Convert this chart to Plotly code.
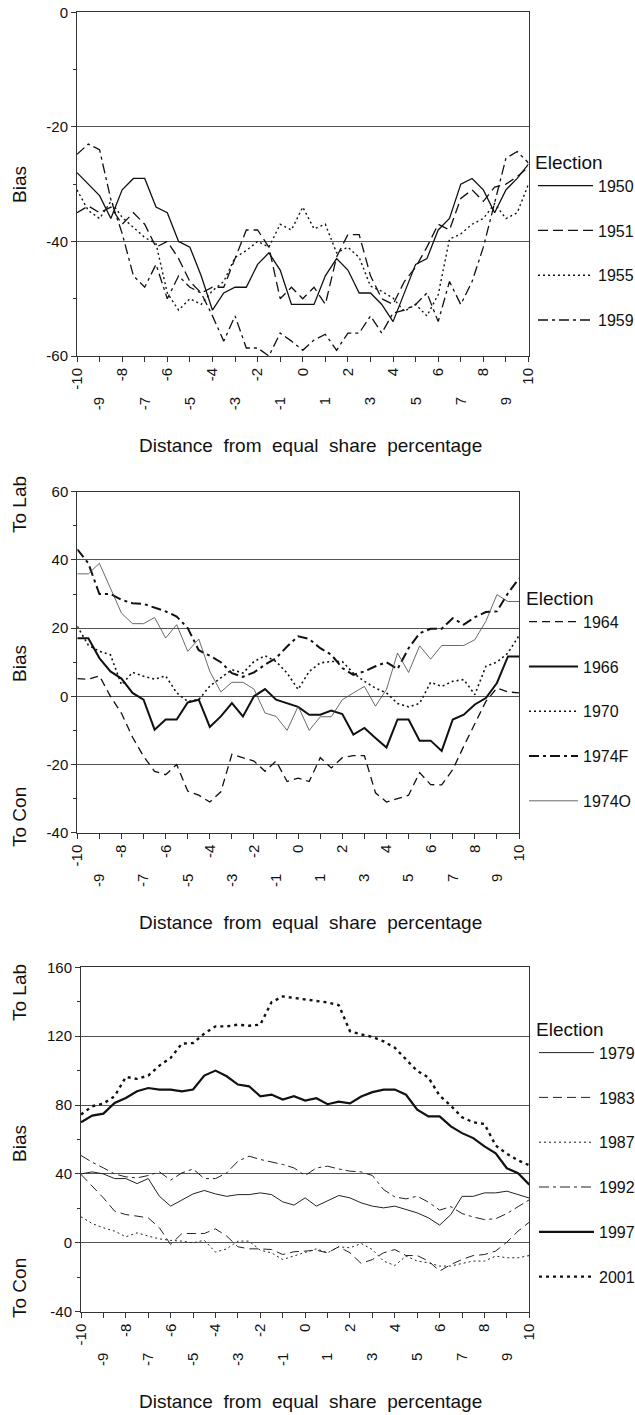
import plotly.graph_objects as go

# ---------------- data ----------------
distance = [-10, -9.5, -9, -8.5, -8, -7.5, -7, -6.5, -6, -5.5, -5, -4.5, -4, -3.5, -3, -2.5, -2,
            -1.5, -1, -0.5, 0, 0.5, 1, 1.5, 2, 2.5, 3, 3.5, 4, 4.5, 5, 5.5, 6, 6.5, 7, 7.5, 8,
            8.5, 9, 9.5, 10]

even_ticks = [-10, -8, -6, -4, -2, 0, 2, 4, 6, 8, 10]
odd_ticks = [-9, -7, -5, -3, -1, 1, 3, 5, 7, 9]

y_ticks_1 = [-60, -40, -20, 0]
y_ticks_2 = [-40, -20, 0, 20, 40, 60]
y_ticks_3 = [-40, 0, 40, 80, 120, 160]

# Panel 1
bias_1950 = [-28, -30, -32, -36, -31, -29, -29, -34, -35, -40, -41, -46, -52, -49, -48, -48, -44,
             -42, -45, -51, -51, -51, -46, -43, -45, -49, -49, -51, -54, -49, -44, -43, -38, -36,
             -30, -29, -31, -35, -31, -29, -26.5]
bias_1951 = [-35, -33.8, -35, -34, -37, -35, -37, -41, -40, -43, -47, -49, -48, -48, -43, -38, -38,
             -41, -50, -48, -50, -48, -51, -42.7, -38.8, -38.8, -46, -50, -51, -47, -44.5, -41,
             -37, -38, -32.5, -31, -33, -30.5, -30, -28.7, -27]
bias_1955 = [-31, -34.6, -36, -33, -35.8, -37.5, -39.3, -40.4, -49, -52, -50, -51, -48.6, -47,
             -42.8, -41.6, -40, -41, -37, -38, -34, -37.8, -37, -42, -41, -42.8, -47.8, -48.7,
             -49.9, -52.2, -51, -53, -49.3, -39.6, -38.7, -37, -36, -33.4, -36, -35, -30]
bias_1959 = [-24.8, -23, -24, -32.7, -38.6, -46, -48, -44, -50, -46, -48, -49, -53, -57.4, -53,
             -58.6, -58.6, -60, -56, -57.4, -59, -57.2, -56.2, -59, -56, -56, -53, -56, -52.5,
             -52, -51, -49, -54, -47, -51, -47, -41, -33, -25.5, -24.3, -26.3]

# Panel 2
bias_1964 = [5.2, 5, 6, 0, -5, -12, -17.6, -22, -23, -20, -27.8, -29, -31, -28, -17, -18, -19,
             -22, -19, -25, -24, -25, -18, -21, -18, -17.4, -17.4, -28.3, -31, -30, -29, -22.4,
             -25.9, -26, -21.5, -14.6, -7.8, -1.5, 2.4, 1.3, 1]
bias_1966 = [17, 17, 11.2, 7.3, 5.2, 1, -1, -9.8, -6.8, -6.8, -1.8, -1, -9, -5.9, -2, -5.9, 0,
             2.1, -1, -2, -3.1, -5.4, -5.4, -4.2, -5.2, -11.2, -9.3, -12.2, -15, -6.8, -6.8,
             -13, -13, -16, -6.8, -5.4, -2.4, -0.5, 3.9, 11.7, 11.7]
bias_1970 = [20.5, 15, 13.2, 12.2, 3.4, 7, 5.9, 5, 6, 1, -1.5, -1, 3, 5.4, 7.8, 6.8, 10.2, 11.9,
             10.2, 6.8, 2, 7.3, 9.8, 10.2, 10.2, 6.8, 4.4, 2.4, 1, -2.1, -3.1, -2.1, 4.1, 2.9,
             4.4, 4.9, 0.5, 8.8, 10, 12.7, 17.8]
bias_1974F = [43.1, 39, 30, 30, 28.3, 27.3, 27.1, 26.1, 24.9, 23.4, 20, 13.5, 11.9, 10, 6.8,
              5.7, 7, 9.3, 11.2, 14.6, 17.6, 16.8, 14.1, 12.2, 8.3, 6.3, 7.3, 8.8, 10, 8, 14.1,
              18.5, 19.8, 19.8, 22.9, 21, 23.2, 24.7, 24.9, 30.2, 34.6]
bias_1974O = [35.9, 35.9, 39, 31.7, 24.4, 21.3, 21.3, 23.1, 17.1, 21, 13.2, 16.8, 7.3, 1.3, 4.1,
              4.1, 2.1, -4.9, -5.9, -10, -2.9, -10, -6, -6, -1, 1, 2.9, -2.9, 2, 12.7, 7, 14.8,
              10.9, 14.9, 14.9, 14.9, 16.6, 22, 29.8, 27.8, 27.8]

# Panel 3
bias_1979 = [40, 41.2, 40, 37.3, 37.3, 34.4, 37.3, 27, 21.3, 25.1, 28.4, 30.4, 28.4, 27, 28, 28,
             29, 28, 23.8, 21.9, 26.1, 21.3, 24.2, 27.5, 26.1, 23.2, 21.3, 20.3, 21.3, 19.3,
             17.4, 14.5, 10.3, 16.4, 27, 27, 29, 29, 30, 28, 26]
bias_1983 = [39.7, 32.9, 26.1, 18.4, 16.4, 15.5, 14.5, 8.7, -1, 5.4, 5.4, 5.4, 8.1, 3.9, -2.3,
             -3.5, -3.5, -3.9, -6.8, -5.2, -4.8, -4.3, -5.8, -2.3, -5.8, -12, -9.7, -5.8, -3.9,
             -7.4, -7.4, -10.6, -16.4, -12.6, -9.7, -7.4, -6.8, -4.8, 0.4, 6.8, 12]
bias_1987 = [15.1, 11.2, 8.7, 6.8, 3.5, 5.8, 3.9, 2.3, 1.4, 1, 0, 1.5, -5.4, -3.5, 1, 1, -4.3,
             -5.8, -9.7, -7.7, -5.4, -3.5, -5.8, -2.3, -2.9, -0.4, -3.9, -10.6, -13.2, -7.7,
             -10.6, -11.6, -13.5, -13.5, -12, -10.6, -10.6, -7.7, -8.7, -8.7, -7.4]
bias_1992 = [50.7, 46.8, 43.5, 40, 38.3, 37.7, 39.1, 41.2, 36.4, 40.6, 42.9, 37.3, 37.3, 40.6,
             47.4, 50.3, 48.4, 47, 45.5, 43.5, 39.1, 43.5, 44.5, 42.9, 41.6, 41.2, 39.1, 30.9,
             26.7, 25.5, 27.1, 23.6, 19, 21, 17, 15, 13.5, 14, 17, 21, 25]
bias_1997 = [70, 73.9, 75, 81.2, 84.1, 88, 89.9, 89, 89, 88, 89, 97.1, 100, 96.7, 91.9, 90.9,
             85.1, 86.1, 83.2, 85.1, 82.6, 84, 80.5, 82, 81, 85, 87.5, 89, 89, 86, 77.3, 73.4,
             73.4, 67.6, 63.7, 60.8, 56, 52, 43.3, 40.4, 33.8]
bias_2001 = [74.5, 79.3, 80.9, 85.1, 96.3, 95.2, 97.1, 102.9, 107.4, 115.7, 116, 121.5, 125.7,
             125.7, 126.7, 126.1, 126.7, 139.7, 143.1, 142.2, 141.6, 140.8, 139.6, 138, 122.9,
             121, 119.6, 117, 113.3, 106.5, 99.8, 96, 85.4, 79.6, 72.9, 70, 69, 56.5, 51.7,
             47.9, 45]

# ---------------- styling ----------------
FONT = "Liberation Sans, Arial, sans-serif"
W, H = 635, 1415

panels = [
    # (xaxis, odd-label xaxis, yaxis, legend, y range, series)
    ("x", "x2", "y", "legend", [-60, 0], [
        ("1950", bias_1950, "solid", 1.3, "#111"),
        ("1951", bias_1951, "10px,5px", 1.3, "#111"),
        ("1955", bias_1955, "2px,3px", 1.4, "#111"),
        ("1959", bias_1959, "10px,4px,3px,4px", 1.3, "#111"),
    ]),
    ("x3", "x4", "y2", "legend2", [-40, 60], [
        ("1964", bias_1964, "8px,5px", 1.3, "#111"),
        ("1966", bias_1966, "solid", 2.0, "#111"),
        ("1970", bias_1970, "2px,3px", 1.6, "#111"),
        ("1974F", bias_1974F, "10px,4px,3px,4px", 2.0, "#111"),
        ("1974O", bias_1974O, "solid", 0.8, "#444"),
    ]),
    ("x5", "x6", "y3", "legend3", [-40, 160], [
        ("1979", bias_1979, "solid", 1.0, "#222"),
        ("1983", bias_1983, "9px,5px", 1.0, "#222"),
        ("1987", bias_1987, "2px,3px", 1.0, "#222"),
        ("1992", bias_1992, "10px,4px,3px,4px", 1.0, "#222"),
        ("1997", bias_1997, "solid", 2.2, "#111"),
        ("2001", bias_2001, "3px,4px", 2.4, "#111"),
    ]),
]

fig = go.Figure()
for xa, xodd, ya, lg, yr, series in panels:
    for name, vals, dash, width, color in series:
        fig.add_trace(go.Scatter(
            x=distance, y=vals, mode="lines", name=name,
            line=dict(color=color, width=width, dash=dash),
            xaxis=xa, yaxis=ya, legend=lg, legendgroup=name,
        ))
    # invisible helper so the odd-label axis gets drawn
    fig.add_trace(go.Scatter(
        x=[distance[0], distance[-1]], y=[yr[0], yr[0]], mode="markers",
        marker=dict(opacity=0, size=1), showlegend=False, hoverinfo="skip",
        xaxis=xodd, yaxis=ya,
    ))

def px_x(v):
    return v / W

def px_y(v):
    return 1 - v / H

tickfont = dict(family=FONT, size=15, color="#111")

def x_even(domain, anchor):
    return dict(domain=domain, anchor=anchor, range=[-10, 10], showgrid=False, zeroline=False,
                tickmode="array", tickvals=even_ticks, ticktext=[str(t) for t in even_ticks],
                ticks="outside", ticklen=5, tickcolor="#333", tickangle=-90, tickfont=tickfont,
                showline=True, linecolor="#333", linewidth=1, mirror=True, automargin=False)

def x_odd(overlay, anchor):
    return dict(overlaying=overlay, anchor=anchor, range=[-10, 10], showgrid=False,
                zeroline=False, tickmode="array", tickvals=odd_ticks,
                ticktext=[str(t) for t in odd_ticks], ticks="outside", ticklen=5,
                tickcolor="#333", tickangle=-90, tickfont=tickfont, showline=False,
                ticklabelstandoff=29, side="bottom", automargin=False)

def y_axis(domain, anchor, ticks):
    step = ticks[1] - ticks[0]
    return dict(domain=domain, anchor=anchor, range=[ticks[0], ticks[-1]], tickmode="array",
                tickvals=ticks, ticktext=[str(t) for t in ticks],
                showgrid=True, gridcolor="#555", gridwidth=1, zeroline=False,
                ticks="outside", ticklen=5, tickcolor="#333", tickfont=tickfont,
                showline=True, linecolor="#333", linewidth=1, mirror=True, automargin=False,
                minor=dict(tickmode="linear", tick0=ticks[0], dtick=step / 2, ticks="outside",
                           ticklen=3, tickcolor="#333", showgrid=False))

legend_common = dict(font=dict(family=FONT, size=16, color="#111"),
                     bgcolor="rgba(0,0,0,0)", tracegroupgap=21,
                     xanchor="left", yanchor="top", itemclick=False)

fig.update_layout(
    width=W, height=H, autosize=False,
    margin=dict(l=0, r=0, t=0, b=0, pad=0, autoexpand=False),
    paper_bgcolor="white", plot_bgcolor="white",
    font=dict(family=FONT, color="#111"),
    showlegend=True,
    xaxis=x_even([px_x(77), px_x(528.5)], "y"),
    xaxis2=x_odd("x", "y"),
    yaxis=y_axis([px_y(356), px_y(12.3)], "x", y_ticks_1),
    xaxis3=x_even([px_x(77.3), px_x(519)], "y2"),
    xaxis4=x_odd("x3", "y2"),
    yaxis2=y_axis([px_y(832.7), px_y(491.7)], "x3", y_ticks_2),
    xaxis5=x_even([px_x(81), px_x(529.3)], "y3"),
    xaxis6=x_odd("x5", "y3"),
    yaxis3=y_axis([px_y(1311.7), px_y(967.3)], "x5", y_ticks_3),
    legend=dict(x=px_x(533), y=px_y(144), itemwidth=55,
                title=dict(text="Election", font=dict(size=19)), **legend_common),
    legend2=dict(x=px_x(524), y=px_y(580), itemwidth=49,
                 title=dict(text="Election", font=dict(size=19)), **legend_common),
    legend3=dict(x=px_x(534), y=px_y(1011), itemwidth=55,
                 title=dict(text="Election", font=dict(size=19)), **legend_common),
)

label_font = dict(family=FONT, size=19, color="#111")
side_labels = [("Bias", 185), ("To Lab", 505), ("Bias", 664), ("To Con", 817),
               ("To Lab", 993), ("Bias", 1144), ("To Con", 1288)]
for text, yc in side_labels:
    fig.add_annotation(text=text, x=px_x(19), y=px_y(yc), xref="paper", yref="paper",
                       showarrow=False, textangle=-90, font=label_font,
                       xanchor="center", yanchor="middle")

xtitle = "Distance\u00a0 from\u00a0 equal\u00a0 share\u00a0 percentage"
for yc in [445, 922, 1401]:
    fig.add_annotation(text=xtitle, x=px_x(310), y=px_y(yc), xref="paper", yref="paper",
                       showarrow=False, font=label_font, xanchor="center", yanchor="middle")

fig.write_html("out.html")
